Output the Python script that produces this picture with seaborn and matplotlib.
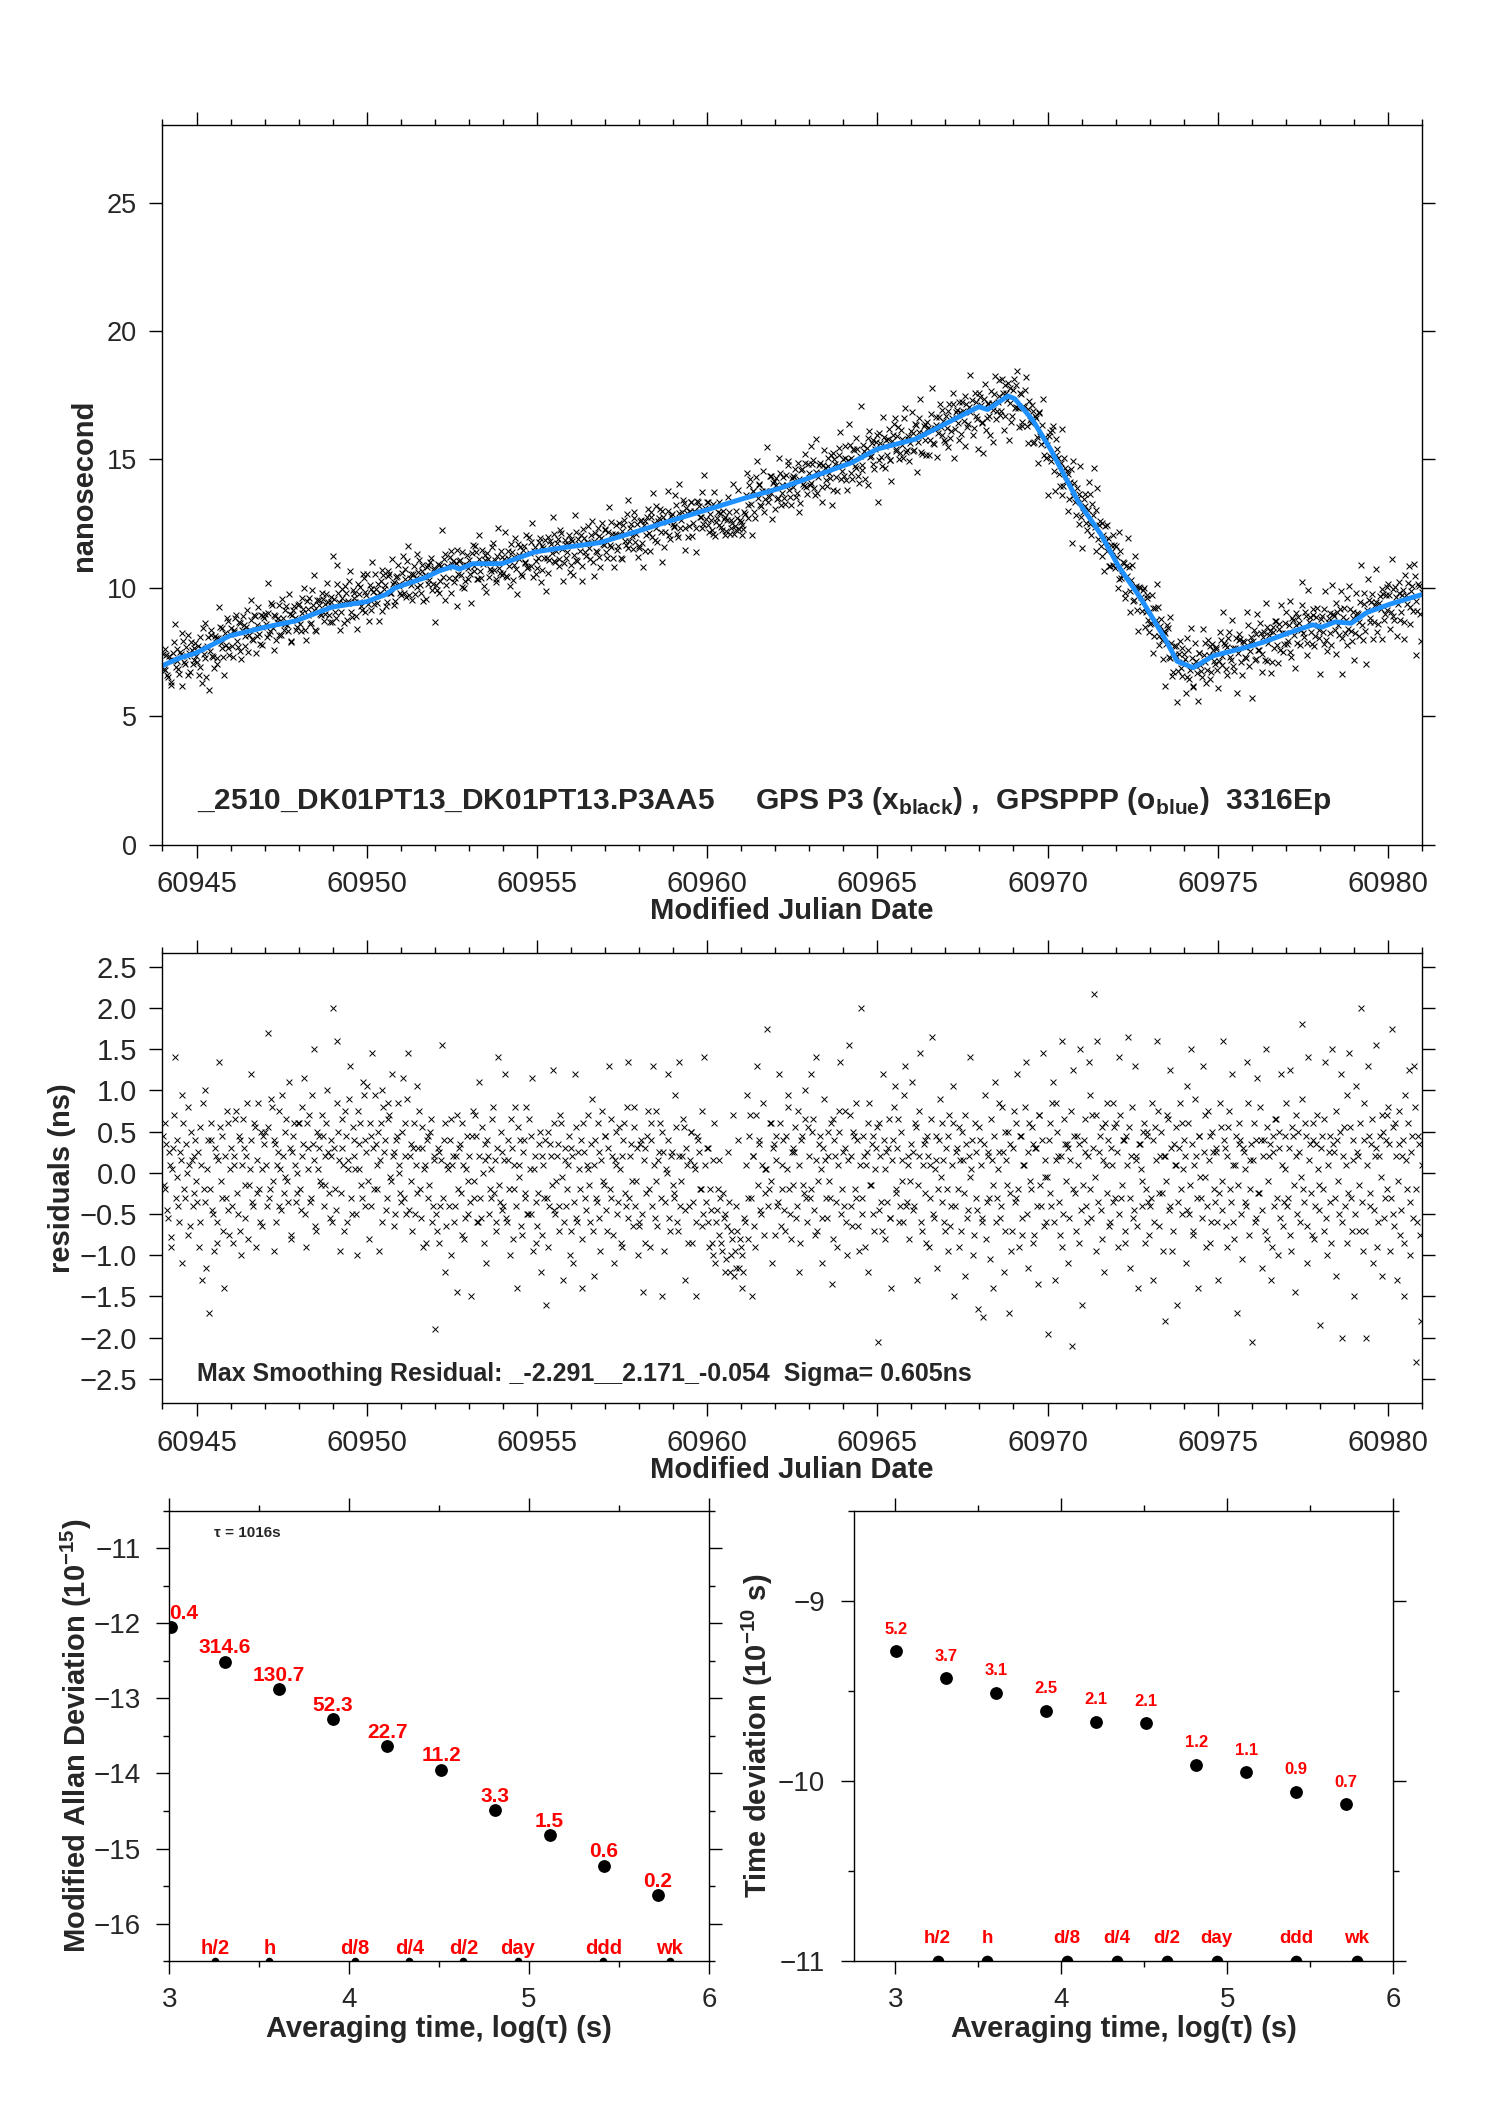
import numpy as np
import pandas as pd
import seaborn as sns
import matplotlib.pyplot as plt
from matplotlib.ticker import MultipleLocator, FuncFormatter

# GPSPPP smoothing curve (blue), read at its break points
smooth_mjd = [60944.0, 60944.46, 60944.98, 60945.97, 60947.02, 60947.93, 60948.98, 60949.99,
              60950.56, 60950.82, 60951.74, 60952.13, 60952.53, 60952.72, 60953.12, 60953.97,
              60954.95, 60955.80, 60956.85, 60957.90, 60958.95, 60960.0, 60961.05, 60962.10,
              60963.47, 60964.26, 60964.99, 60966.12, 60967.05, 60967.98, 60968.24, 60968.84,
              60969.04, 60969.57, 60970.10, 60970.90, 60971.56, 60972.09, 60972.75, 60973.42,
              60973.81, 60974.28, 60974.88, 60975.80, 60976.33, 60976.99, 60977.79, 60978.06,
              60978.46, 60978.92, 60979.38, 60980.05, 60981.0]
smooth_ns = [6.97, 7.25, 7.46, 8.13, 8.47, 8.72, 9.25, 9.46,
             9.74, 9.99, 10.41, 10.66, 10.83, 10.73, 10.94, 10.94,
             11.40, 11.57, 11.76, 12.18, 12.62, 13.04, 13.47, 13.86,
             14.50, 14.88, 15.40, 15.79, 16.42, 17.05, 16.94, 17.47,
             17.36, 16.52, 15.37, 13.36, 12.10, 10.83, 9.57, 8.09,
             7.14, 6.89, 7.36, 7.67, 7.88, 8.20, 8.56, 8.47,
             8.68, 8.62, 9.04, 9.36, 9.74]

# smoothing residuals in 0.01 ns, even epochs (20 per day from MJD 60944)
resid_even = [
    45, -20, 35, -55, 10, -78, 30, 140, -5, -40, 25, -110, 60, -30, 0, 80, -65, 15, -25, 40,
    -35, -90, 55, -130, -20, 100, 5, -170, 40, -45, -95, 20, -60, 135, -10, 45, -140, -30, 60, -75,
    30, -85, 10, 75, -50, 40, -100, 65, -15, 20, -80, 5, 120, -40, 55, -25, 85, -60, 5, 45,
    50, -40, 170, -20, 80, -95, 35, 10, -40, 5, 95, -25, 50, -10, 110, -75, 25, 60, -35, 0,
    60, -45, 20, 115, -90, 30, 70, -30, 35, 150, -70, 5, 45, -15, 45, -15, 60, 25, -55, 20,
    200, -20, 160, 50, -95, 30, 10, 75, -60, 15, 130, -50, 40, 5, -100, 5, 60, -30, 95, 40,
    105, -80, 45, 145, -20, 35, 10, -95, 60, 100, 25, -45, 85, 70, -10, 20, -65, 40, 85, 0,
    -35, 115, 60, -50, 145, 20, -10, 30, -50, 105, 30, -20, 55, -90, 10, 40, -30, 50, -60, 15,
    -190, -70, 25, -40, 155, 40, -120, 10, -40, 65, 10, -60, 20, -145, 30, -25, 60, -80, 5, -50,
    20, -150, 75, -30, 45, -60, 110, -55, 0, 35, -110, 20, -20, -30, 80, 15, -60, 140, -35, 25,
    -40, 120, -60, 15, -100, 30, -20, 80, -140, 10, 40, -75, 40, -25, -50, 65, -50, 115, 5, -85,
    -65, 35, -120, 20, -30, -160, 50, -40, 20, 125, -45, -10, 35, -70, 60, -130, 15, -40, 10, -100,
    30, -110, 120, -55, 25, -20, -140, 60, -30, 10, 5, -60, 90, -125, 40, -35, 25, -95, 75, -15,
    45, -70, 130, -30, 20, -110, 10, -50, 55, -85, 20, 60, -40, 135, -30, 35, -65, 80, -10, -100,
    -60, 40, -145, 30, -25, 75, -90, 40, 130, -55, -10, 15, 60, -150, 25, -35, 0, 120, -70, 25,
    -25, 95, -60, 135, -40, 20, 55, -130, 10, -40, 50, -85, 10, -150, 45, 25, -20, -65, 140, -35,
    30, -90, -45, -100, 60, -60, -20, 15, -85, -25, -50, -105, 25, -120, -70, 70, -95, -115, 40, -80,
    -140, -120, -60, 95, -30, 70, -150, 20, -90, 130, 40, -45, 10, -75, 5, 175, -20, 60, -110, 35,
    45, -40, 120, -65, 10, -45, 45, 95, -20, -80, 30, 25, -55, 75, -120, 40, -15, 100, -30, 55,
    -30, 120, 65, -75, 140, -10, 45, -110, 30, 15, -55, 50, -30, -135, 65, 20, -90, 50, 135, -20,
    -40, 75, -100, 155, 20, -65, 45, -30, 40, -95, 200, -50, 20, 10, -120, 85, -15, 45, -70, 30,
    -205, 60, -35, 120, -80, 25, 30, -55, -140, 40, 105, -20, 65, -40, 15, -60, 130, -35, 20, -10,
    110, -45, 60, -130, 20, 145, -70, 35, -25, 45, -90, 10, 165, -55, 15, -115, 40, -5, 60, -60,
    30, -95, 70, -40, 105, -150, 25, -20, 55, -70, 15, -125, 35, -45, 140, 5, -100, 60, -30, -165,
    40, -60, -175, 95, -35, 25, -105, 15, -140, 110, -30, 25, -55, 80, -120, 50, -15, -170, 35, -70,
    75, -30, 120, -90, 45, -55, 10, 135, -115, 60, -20, 35, -75, 30, -135, 70, -40, 145, -5, -60,
    -195, 60, -40, 110, -130, 85, 20, -75, 160, -50, 35, 35, -110, 15, -210, 125, -25, 45, -85, 150,
    -160, 40, 25, -60, 135, -20, 70, 217, -95, 160, 25, -45, 55, -120, 10, 85, -65, 30, -35, 55,
    60, -90, 140, -30, 40, -70, 45, 165, -115, 20, -55, 130, 15, -140, 35, -10, 50, -85, 50, -35,
    -40, 85, -130, 55, 160, -65, 20, -25, 20, -180, 70, -45, 125, -95, 35, 10, -160, 30, -20, 60,
    40, -110, 105, -50, 150, -75, 10, 20, -140, 45, -30, 130, -5, -90, 75, 45, -60, 25, -35, 25,
    -130, 85, -45, 160, 30, -90, 55, -20, 120, -60, 10, -170, 35, 40, -105, 25, -35, 135, -75, 15,
    -205, 60, -55, 115, -25, 40, -115, 40, 150, -80, 20, -130, 45, -40, 65, -100, 30, 120, -65, 5,
    85, -30, 125, -95, 45, -145, 20, 50, -60, 180, -20, 60, -110, 140, 35, -75, 40, -40, 70, -15,
    -185, 45, -70, 135, -100, 25, -35, 150, 25, -125, 40, -50, 120, -200, 55, 10, -85, 145, -30, 40,
    -150, 105, 20, -70, 200, -95, 40, -200, 130, -40, 35, -110, 20, 155, -60, 45, -125, 50, -30, 70,
    80, -95, 175, -50, 60, -130, 35, -75, 20, -150, 95, -20, 125, -100, 45, 130, -229, -60, 35, -180,
]
# smoothing residuals in 0.01 ns, odd epochs (between the even ones)
resid_odd = [
    -15, 60, -45, 25, -90, 5, 70, -30, 40, -60, 15, 95, -20, 35, -75, 10, 50, -40, 20, -10,
    25, -60, 10, 85, -35, -115, 40, -20, 60, -50, 30, -85, 15, 55, -30, -70, 20, 75, -45, 5,
    -40, 20, 65, -25, 45, -70, 10, 30, -55, 85, -15, 40, -35, 60, -90, 15, -20, 50, -65, 35,
    10, 55, -30, 90, -10, 40, -60, 25, 75, -45, 20, -5, 65, -35, 30, -80, 45, 10, -25, 60,
    -20, 80, 35, -50, 60, 5, -35, 95, 15, -65, 50, 30, -10, 70, -40, 20, 100, -25, 40, -60,
    30, -45, 85, 15, -25, 65, -70, 45, 5, 90, -30, 55, 20, -50, 75, 35, -15, 110, -40, 25,
    -10, 60, -40, 30, 95, -20, 50, 15, -60, 80, 40, -30, 65, -5, 120, 25, -50, 45, 10, -25,
    50, -30, 20, 90, -45, 35, -70, 60, 10, -25, 75, -55, 30, 5, -85, 45, -15, 65, -40, 20,
    -50, 30, -85, 15, -30, 60, -65, 5, 40, -100, 20, -40, 70, -20, 35, -75, 10, -55, 45, -10,
    -35, 45, -10, 70, -60, 20, -30, 55, -85, 15, 40, -50, 5, 65, -25, -70, 30, -15, 50, -45,
    15, -55, 40, -20, 65, -80, 10, -40, 55, -5, -65, 25, -30, 80, -50, 5, 45, -95, 20, -35,
    -25, 50, -75, 10, 40, -30, -90, 35, -15, 60, -50, 20, -40, 70, -5, -60, 30, -20, 45, -70,
    20, -35, 55, -60, 5, 40, -80, 25, -45, 70, -15, 35, -70, 10, -30, 60, -55, 15, -10, 45,
    -45, 30, -20, 65, -75, 15, 50, -35, 5, -90, 40, -25, 80, -55, 20, -10, 55, -40, 30, -65,
    35, -50, 15, -85, 45, -20, 60, -40, 10, 75, -65, 25, -30, 50, -95, 5, 40, -55, 20, -15,
    -30, 55, -70, 20, -10, 65, -45, 30, -85, 15, 50, -35, 5, -60, 40, -20, 75, -50, 10, 30,
    -60, -20, -85, 15, -110, -45, -75, -30, -95, -55, -120, -65, -35, -100, -80, -125, -40, -70, -115, -90,
    -100, -55, 10, -80, 45, -30, 20, -65, 70, -15, 35, -50, 85, -25, 5, -40, 60, -10, 30, -75,
    15, -35, 60, -20, 40, -70, 5, 80, -50, 25, -15, 55, -40, 10, -85, 45, -25, 65, -60, 20,
    -20, 50, -45, 15, -70, 35, 5, -55, 90, -30, 20, -10, 60, -80, 40, -35, 10, 75, -50, 25,
    30, -60, 15, 70, -40, 50, -20, 85, -65, 10, -30, 45, -90, 25, 60, -15, 35, -50, 5, 55,
    -45, 20, -70, 40, 5, -35, 65, -55, 15, 80, -25, 30, -60, 50, -10, 95, -40, 10, -80, 35,
    25, -40, 55, -15, 75, -60, 10, 40, -85, 20, -30, 65, -50, 5, 45, -20, 90, -35, 15, -70,
    -20, 45, -65, 10, 60, -40, 30, -90, 15, 50, -25, 70, -55, 20, -5, 40, -75, 25, -45, 55,
    10, -55, 35, -80, 20, -30, 65, -15, 45, -60, 5, 85, -40, 25, -70, 15, 50, -25, -95, 30,
    -35, 60, -20, 45, -75, 10, 80, -50, 25, -10, 55, -85, 30, -40, 70, -15, 40, -65, 15, -5,
    40, -25, 85, -60, 15, 50, -35, 20, -90, 65, -10, 30, -55, 75, -20, 45, -70, 10, 35, -45,
    -15, 65, -40, 20, 95, -55, 30, -5, 70, -35, 45, -80, 15, 60, -25, 40, -60, 10, 85, -30,
    25, -50, 70, -15, 40, -85, 10, 55, -30, 80, -45, 20, -65, 35, 5, -40, 60, -20, 45, -75,
    -30, 40, -60, 15, 75, -25, 50, -95, 20, -10, 65, -40, 30, -70, 10, 55, -35, 85, -50, 5,
    20, -45, 60, -15, 35, -70, 90, -30, 45, -5, -55, 25, 70, -40, 15, -85, 50, -20, 30, -60,
    -25, 55, -10, 40, -65, 20, 75, -35, 10, -80, 45, -15, 60, -50, 30, 5, -40, 85, -20, 35,
    15, -60, 40, -25, 80, -45, 20, -70, 55, -10, 35, -90, 25, 65, -30, 50, -55, 10, -35, 45,
    -40, 30, -75, 55, -15, 70, -50, 25, -5, 90, -35, 45, -65, 15, -25, 60, -80, 35, 5, -45,
    30, -20, 65, -55, 10, 45, -85, 35, -30, 75, -10, 50, -60, 20, -40, 95, -25, 55, -70, 15,
    -50, 25, -15, 60, -35, 85, -70, 10, 45, -25, 65, -45, 30, -90, 20, -5, 70, -55, 40, -20,
    35, -30, 55, -65, 20, -10, 75, -45, 40, -85, 15, 60, -35, 25, -55, 80, -20, 45, -75, 10,
]
mjd_start = 60944.0
mjd_span = 37.0

# stability, tau = 1016 s * 2^k
log_tau = [3.007, 3.308, 3.609, 3.910, 4.211, 4.512, 4.813, 5.114, 5.415, 5.716]
mdev = [-12.05, -12.51, -12.88, -13.28, -13.64, -13.95, -14.49, -14.82, -15.23, -15.62]
mdev_labels = ["0.4", "314.6", "130.7", "52.3", "22.7", "11.2", "3.3", "1.5", "0.6", "0.2"]
tdev = [-9.28, -9.43, -9.51, -9.61, -9.67, -9.68, -9.91, -9.95, -10.06, -10.13]
tdev_labels = ["5.2", "3.7", "3.1", "2.5", "2.1", "2.1", "1.2", "1.1", "0.9", "0.7"]
mark_names = ["h/2", "h", "d/8", "d/4", "d/2", "day", "ddd", "wk"]
mark_logtau = [3.255, 3.556, 4.033, 4.334, 4.635, 4.936, 5.414, 5.782]

sns.set_style("ticks")
plt.rcParams['font.family'] = ['Liberation Sans', 'DejaVu Sans']
plt.rcParams['mathtext.fontset'] = 'custom'
plt.rcParams['mathtext.rm'] = 'Liberation Sans'
plt.rcParams['mathtext.bf'] = 'Liberation Sans:bold'
plt.rcParams['axes.linewidth'] = 1.0

n = min(len(resid_even), len(resid_odd))
resid = np.column_stack([resid_even[:n], resid_odd[:n]]).ravel() / 100.0
t = mjd_start + (np.arange(len(resid)) + 0.5) * mjd_span / len(resid)
# raw clock offsets = smoothing curve + residuals
raw = np.interp(t, smooth_mjd, smooth_ns) + resid
df = pd.DataFrame({"mjd": t, "ns": raw, "res": resid})

fig = plt.figure(figsize=(14.88, 21.05), dpi=100)
ax1 = fig.add_axes([0.1092, 0.5987, 0.8464, 0.3417])
ax2 = fig.add_axes([0.1092, 0.3334, 0.8464, 0.2138])
ax3 = fig.add_axes([0.1138, 0.0684, 0.3626, 0.2138])
ax4 = fig.add_axes([0.5737, 0.0684, 0.3626, 0.2138])


def style_ticks(ax, xsize, ysize, ypad=9):
    ax.tick_params(which='both', direction='out', top=True, right=True,
                   width=1.0, color='black')
    ax.tick_params(which='major', length=9.5)
    ax.tick_params(which='minor', length=4.5)
    ax.tick_params(axis='x', labelsize=xsize, pad=9)
    ax.tick_params(axis='y', labelsize=ysize, pad=ypad)
    for s in ax.spines.values():
        s.set_color('black')
        s.set_linewidth(1.0)


# --- top: clock offsets
sns.scatterplot(data=df, x="mjd", y="ns", marker="x", color="black", s=18,
                linewidth=0.75, ax=ax1, legend=False)
sns.lineplot(x=smooth_mjd, y=smooth_ns, color="#1e90ff", lw=3.5, estimator=None,
             ax=ax1, legend=False)
ax1.set_xlim(60944.0, 60981.0)
ax1.set_ylim(0, 28)
ax1.xaxis.set_major_locator(MultipleLocator(5))
ax1.xaxis.set_minor_locator(MultipleLocator(1))
ax1.yaxis.set_major_locator(MultipleLocator(5))
style_ticks(ax1, 21, 19.5)
ax1.set_xlabel("Modified Julian Date", fontsize=21, fontweight='bold')
ax1.set_ylabel("nanosecond", fontsize=21, fontweight='bold')
ax1.xaxis.set_label_coords(0.5, -0.072)
ax1.yaxis.set_label_coords(-0.051, 0.5)
ax1.text(60945.0, 1.38,
         r"_2510_DK01PT13_DK01PT13.P3AA5     GPS P3 (x$_{\mathbf{black}}$) ,  "
         r"GPSPPP (o$_{\mathbf{blue}}$)  3316Ep",
         fontsize=21.5, fontweight='bold', va='baseline', ha='left')

# --- middle: residuals
sns.scatterplot(data=df, x="mjd", y="res", marker="x", color="black", s=18,
                linewidth=0.7, ax=ax2, legend=False)
ax2.set_xlim(60944.0, 60981.0)
ax2.set_ylim(-2.795, 2.665)
ax2.xaxis.set_major_locator(MultipleLocator(5))
ax2.xaxis.set_minor_locator(MultipleLocator(1))
ax2.yaxis.set_major_locator(MultipleLocator(0.5))
ax2.yaxis.set_major_formatter(FuncFormatter(lambda v, p: f"{v:.1f}".replace("-", "\u2212")))
style_ticks(ax2, 21, 21)
ax2.set_xlabel("Modified Julian Date", fontsize=21, fontweight='bold')
ax2.set_ylabel("residuals (ns)", fontsize=21, fontweight='bold')
ax2.xaxis.set_label_coords(0.5, -0.117)
ax2.yaxis.set_label_coords(-0.069, 0.5)
ax2.text(60945.02, -2.525,
         "Max Smoothing Residual: _-2.291__2.171_-0.054  Sigma= 0.605ns",
         fontsize=18, fontweight='bold', va='baseline', ha='left')

# --- bottom left: modified Allan deviation
sns.scatterplot(x=log_tau, y=mdev, color="black", s=85, linewidth=0, ax=ax3, legend=False)
sns.scatterplot(x=mark_logtau, y=[-16.5] * len(mark_logtau), color="black", s=30,
                linewidth=0, ax=ax3, legend=False)
for x, y, lab in zip(log_tau, mdev, mdev_labels):
    at_edge = x - 3.0 < 0.02
    ax3.annotate(lab, (3.0 if at_edge else x, y), xytext=(0, 6),
                 textcoords='offset points', ha='left' if at_edge else 'center',
                 va='baseline', color='red', fontsize=15, fontweight='bold')
for x, lab in zip(mark_logtau, mark_names):
    ax3.annotate(lab, (x, -16.5), xytext=(0, 5), textcoords='offset points',
                 ha='center', va='baseline', color='red', fontsize=14.5, fontweight='bold')
ax3.text(0.083, 0.95, "\u03c4 = 1016s", transform=ax3.transAxes, fontsize=11,
         fontweight='bold', va='center', ha='left')
ax3.set_xlim(3, 6)
ax3.set_ylim(-16.5, -10.5)
ax3.xaxis.set_major_locator(MultipleLocator(1))
ax3.xaxis.set_minor_locator(MultipleLocator(0.5))
ax3.yaxis.set_major_locator(MultipleLocator(1))
ax3.yaxis.set_minor_locator(MultipleLocator(0.5))
style_ticks(ax3, 20, 20, ypad=11)
ax3.set_xlabel("Averaging time, log(\u03c4) (s)", fontsize=21, fontweight='bold')
ax3.set_ylabel(r"Modified Allan Deviation (10$^{\mathbf{-15}}$)", fontsize=21,
               fontweight='bold')
ax3.xaxis.set_label_coords(0.5, -0.12)
ax3.yaxis.set_label_coords(-0.14, 0.5)

# --- bottom right: time deviation
sns.scatterplot(x=log_tau, y=tdev, color="black", s=85, linewidth=0, ax=ax4, legend=False)
sns.scatterplot(x=mark_logtau, y=[-11.0] * len(mark_logtau), color="black", s=70,
                linewidth=0, ax=ax4, legend=False)
for x, y, lab in zip(log_tau, tdev, tdev_labels):
    ax4.annotate(lab, (x, y), xytext=(0, 12.5), textcoords='offset points',
                 ha='center', va='baseline', color='red', fontsize=12, fontweight='bold')
for x, lab in zip(mark_logtau, mark_names):
    ax4.annotate(lab, (x, -11.0), xytext=(0, 13), textcoords='offset points',
                 ha='center', va='baseline', color='red', fontsize=13.5, fontweight='bold')
ax4.set_xlim(2.75, 6)
ax4.set_ylim(-11, -8.5)
ax4.xaxis.set_major_locator(MultipleLocator(1))
ax4.xaxis.set_minor_locator(MultipleLocator(0.5))
ax4.yaxis.set_major_locator(MultipleLocator(1))
ax4.yaxis.set_minor_locator(MultipleLocator(0.5))
style_ticks(ax4, 20, 20, ypad=11)
ax4.set_xlabel("Averaging time, log(\u03c4) (s)", fontsize=21, fontweight='bold')
ax4.set_ylabel(r"Time deviation (10$^{\mathbf{-10}}$ s)", fontsize=21, fontweight='bold')
ax4.xaxis.set_label_coords(0.5, -0.12)
ax4.yaxis.set_label_coords(-0.145, 0.5)

fig.savefig("out.png", dpi=100, facecolor="white")
